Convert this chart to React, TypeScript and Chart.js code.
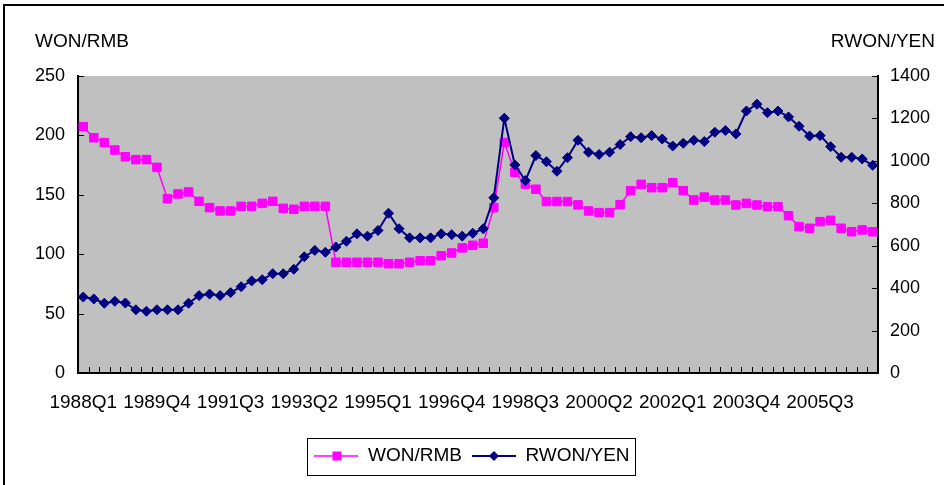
import React, { useEffect, useRef } from 'react';
import { Chart, registerables } from 'chart.js';

Chart.register(...registerables);

const years = [1988, 1989, 1990, 1991, 1992, 1993, 1994, 1995, 1996, 1997, 1998, 1999, 2000, 2001, 2002, 2003, 2004, 2005, 2006];
const quarters = ['Q1', 'Q2', 'Q3', 'Q4'];
const categories: string[] = years.flatMap((y) => quarters.map((q) => `${y}${q}`));
const labelEvery = 7;

const seriesNames = ['WON/RMB', 'RWON/YEN'];

const wonRmb = [
  207.3, 198, 193.9, 187.7, 182, 179.6, 179.6, 173.1, 146.7, 150.7,
  152.4, 144.5, 139.2, 136.4, 136.4, 140.3, 140.3, 142.8, 144.5, 138.6,
  137.8, 140.3, 140.3, 140.3, 93.2, 93.2, 93.2, 93.2, 93.2, 92,
  92, 93.2, 94.5, 94.5, 98.7, 101, 105.3, 107.5, 109.2, 139.2,
  194, 169, 159, 154.7, 144.3, 144.3, 144.3, 141.5, 136.4, 135,
  135, 141.7, 153.5, 158.8, 156, 156, 160.2, 153.5, 145.6, 148.1,
  145.6, 145.6, 141.4, 142.8, 141.4, 140, 140, 132.4, 123.2, 121.8,
  127.4, 128.5, 121.8, 118.9, 120.4, 118.9,
];

const rwonYen = [
  358, 349, 329, 338, 330, 298, 291, 298, 298, 298,
  329, 365, 372, 365, 379, 407, 434, 440, 468, 468,
  489, 548, 578, 569, 594, 621, 656, 645, 672, 753,
  680, 637, 637, 637, 656, 652, 645, 659, 680, 826,
  1201, 981, 907, 1025, 996, 951, 1015, 1097, 1041, 1030,
  1041, 1077, 1114, 1109, 1119, 1103, 1070, 1083, 1097, 1091,
  1135, 1143, 1127, 1235, 1267, 1227, 1235, 1207, 1163, 1117,
  1119, 1067, 1017, 1017, 1009, 979,
];

const leftAxis = { min: 0, max: 250, step: 50, title: 'WON/RMB' };
const rightAxis = { min: 0, max: 1400, step: 200, title: 'RWON/YEN' };

const PINK = '#FF00FF';
const NAVY = '#000080';
const FONT = '"Liberation Sans", Arial, Helvetica, sans-serif';

function legendIcon(color: string, kind: 'rect' | 'diamond'): HTMLCanvasElement {
  const c = document.createElement('canvas');
  c.width = 44;
  c.height = 14;
  const ctx = c.getContext('2d')!;
  ctx.strokeStyle = color;
  ctx.lineWidth = kind === 'rect' ? 1.5 : 2;
  ctx.beginPath();
  ctx.moveTo(0, 7);
  ctx.lineTo(44, 7);
  ctx.stroke();
  ctx.fillStyle = color;
  if (kind === 'rect') {
    ctx.fillRect(18, 2.5, 9, 9);
  } else {
    ctx.beginPath();
    ctx.moveTo(22, 2);
    ctx.lineTo(27, 7);
    ctx.lineTo(22, 12);
    ctx.lineTo(17, 7);
    ctx.closePath();
    ctx.fill();
  }
  return c;
}

const bgPlugin = {
  id: 'plotBg',
  beforeDraw(chart: any) {
    const { ctx, chartArea: a } = chart;
    ctx.save();
    ctx.fillStyle = '#C0C0C0';
    ctx.fillRect(a.left, a.top, a.right - a.left, a.bottom - a.top);
    ctx.restore();
  },
};

const insideTicksPlugin = {
  id: 'insideTicks',
  beforeDatasetsDraw(chart: any) {
    const { ctx, chartArea: a, scales } = chart;
    ctx.save();
    ctx.strokeStyle = '#000';
    ctx.lineWidth = 1;
    ctx.beginPath();
    const xs = scales.x;
    for (let i = 0; i <= categories.length; i++) {
      const px = Math.round(xs.getPixelForValue(i - 0.5)) + 0.5;
      ctx.moveTo(px, a.bottom);
      ctx.lineTo(px, a.bottom - 6);
    }
    const yl = scales.y;
    for (let v = leftAxis.min; v <= leftAxis.max; v += leftAxis.step) {
      const py = Math.round(yl.getPixelForValue(v)) + 0.5;
      ctx.moveTo(a.left, py);
      ctx.lineTo(a.left + 6, py);
    }
    const yr = scales.y1;
    for (let v = rightAxis.min; v <= rightAxis.max; v += rightAxis.step) {
      const py = Math.round(yr.getPixelForValue(v)) + 0.5;
      ctx.moveTo(a.right, py);
      ctx.lineTo(a.right - 6, py);
    }
    ctx.stroke();
    ctx.restore();
  },
};

const decorPlugin = {
  id: 'decor',
  afterDraw(chart: any) {
    const { ctx } = chart;
    ctx.save();
    ctx.fillStyle = '#000';
    ctx.font = `19px ${FONT}`;
    ctx.textBaseline = 'middle';
    ctx.textAlign = 'left';
    ctx.fillText(leftAxis.title, 35, 42);
    ctx.textAlign = 'right';
    ctx.fillText(rightAxis.title, 935, 42);
    const hb = chart.legend?.legendHitBoxes || [];
    if (hb.length) {
      const l = Math.min(...hb.map((h: any) => h.left)) - 7;
      const r = Math.max(...hb.map((h: any) => h.left + h.width)) + 6;
      const t = hb[0].top - 9;
      const b = hb[0].top + hb[0].height + 9;
      ctx.strokeStyle = '#000';
      ctx.lineWidth = 1;
      ctx.strokeRect(Math.round(l) + 0.5, Math.round(t) + 0.5, Math.round(r - l), Math.round(b - t));
    }
    ctx.restore();
  },
};

export default function App() {
  const ref = useRef<HTMLCanvasElement>(null);

  useEffect(() => {
    if (!ref.current) return;
    const icons = [legendIcon(PINK, 'rect'), legendIcon(NAVY, 'diamond')];
    const chart = new Chart(ref.current, {
      type: 'line',
      data: {
        labels: categories,
        datasets: [
          {
            label: seriesNames[0],
            data: wonRmb,
            yAxisID: 'y',
            borderColor: PINK,
            backgroundColor: PINK,
            borderWidth: 1.5,
            pointStyle: 'rect',
            pointRadius: 6,
            pointBorderWidth: 1,
            pointBorderColor: PINK,
            pointBackgroundColor: PINK,
            tension: 0,
            order: 1,
          },
          {
            label: seriesNames[1],
            data: rwonYen,
            yAxisID: 'y1',
            borderColor: NAVY,
            backgroundColor: NAVY,
            borderWidth: 2,
            pointStyle: 'rectRot',
            pointRadius: 5,
            pointBorderWidth: 1,
            pointBorderColor: NAVY,
            pointBackgroundColor: NAVY,
            tension: 0,
            order: 0,
          },
        ],
      },
      options: {
        responsive: false,
        animation: false,
        devicePixelRatio: 1,
        layout: { padding: { top: 76, left: 0, right: 0, bottom: 9.5 } },
        plugins: {
          tooltip: { enabled: false },
          legend: {
            display: true,
            position: 'bottom',
            labels: {
              usePointStyle: true,
              pointStyleWidth: 44,
              boxHeight: 14,
              padding: 10,
              color: '#000',
              font: { family: FONT, size: 19 },
              generateLabels: () =>
                seriesNames.map((name, i) => ({
                  text: name,
                  pointStyle: icons[i] as any,
                  fillStyle: i === 0 ? PINK : NAVY,
                  strokeStyle: i === 0 ? PINK : NAVY,
                  lineWidth: 0,
                  hidden: false,
                  datasetIndex: i,
                  fontColor: '#000',
                })),
            },
          },
        },
        scales: {
          x: {
            type: 'category',
            offset: true,
            grid: { display: true, offset: true, drawOnChartArea: false, drawTicks: false },
            border: { display: true, color: '#000', width: 2 },
            ticks: {
              autoSkip: false,
              maxRotation: 0,
              minRotation: 0,
              padding: 18,
              color: '#000',
              font: { family: FONT, size: 19 },
              callback: (_v: any, i: number) => (i % labelEvery === 0 ? categories[i] : ''),
            },
            afterFit: (s: any) => {
              s.height = 63.5;
            },
          },
          y: {
            position: 'left',
            min: leftAxis.min,
            max: leftAxis.max,
            grid: { drawOnChartArea: false, drawTicks: false },
            border: { display: true, color: '#000', width: 2 },
            ticks: {
              stepSize: leftAxis.step,
              padding: 13,
              color: '#000',
              font: { family: FONT, size: 18 },
              callback: (v: any) => String(v),
            },
            afterFit: (s: any) => {
              s.width = 78;
            },
          },
          y1: {
            position: 'right',
            min: rightAxis.min,
            max: rightAxis.max,
            grid: { drawOnChartArea: false, drawTicks: false },
            border: { display: true, color: '#000', width: 2 },
            ticks: {
              stepSize: rightAxis.step,
              padding: 12,
              color: '#000',
              font: { family: FONT, size: 18 },
              callback: (v: any) => String(v),
            },
            afterFit: (s: any) => {
              s.width = 66;
            },
          },
        },
      },
      plugins: [bgPlugin, insideTicksPlugin, decorPlugin],
    });
    return () => chart.destroy();
  }, []);

  return (
    <div
      style={{
        position: 'fixed',
        left: 0,
        top: 0,
        width: 944,
        height: 485,
        overflow: 'hidden',
        background: '#fff',
      }}
    >
      <div
        style={{
          position: 'absolute',
          left: 3,
          top: 4,
          width: 1000,
          height: 600,
          border: '2px solid #000',
          boxSizing: 'border-box',
        }}
      />
      <canvas ref={ref} width={944} height={485} style={{ position: 'absolute', left: 0, top: 0 }} />
    </div>
  );
}
